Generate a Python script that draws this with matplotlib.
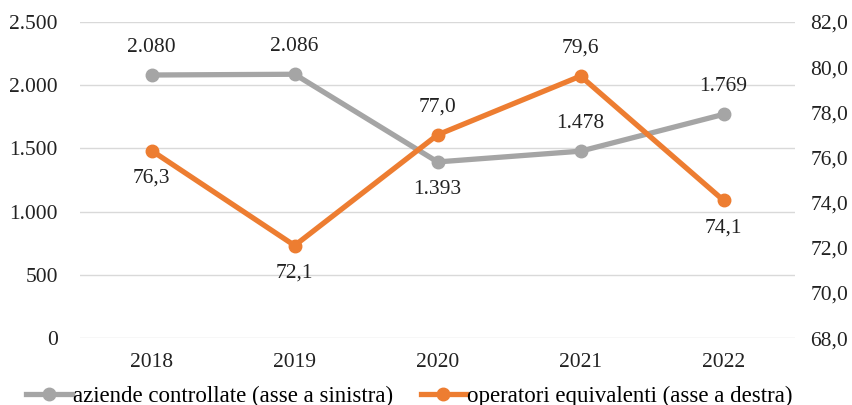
import matplotlib.pyplot as plt
from matplotlib.ticker import FuncFormatter

plt.rcParams['font.family'] = ['Liberation Serif', 'DejaVu Serif']

anni = ['2018', '2019', '2020', '2021', '2022']
aziende = [2080, 2086, 1393, 1478, 1769]
operatori = [76.3, 72.1, 77.0, 79.6, 74.1]

# posizione etichette: True = sopra
aziende_sopra = [True, True, False, True, True]
operatori_sopra = [False, False, True, True, False]

grigio = '#A5A5A5'
arancio = '#ED7D31'
fs = 15.5

fig = plt.figure(figsize=(8.53, 4.05), dpi=100)
ax = fig.add_axes([0.094, 0.165, 0.838, 0.781])
ax2 = ax.twinx()

x = list(range(len(anni)))
l1, = ax.plot(x, aziende, color=grigio, lw=3.8, marker='o', ms=9,
              label='aziende controllate (asse a sinistra)', zorder=3)
l2, = ax2.plot(x, operatori, color=arancio, lw=3.8, marker='o', ms=9,
               label='operatori equivalenti (asse a destra)', zorder=3)

ax.set_ylim(0, 2500)
ax.set_yticks(range(0, 2501, 500))
ax2.set_ylim(68, 82)
ax2.set_yticks(range(68, 83, 2))
ax.set_xlim(-0.5, len(anni) - 0.5)
ax.set_xticks(x)
ax.set_xticklabels(anni)

ax.yaxis.set_major_formatter(FuncFormatter(lambda v, p: f'{int(v):,}'.replace(',', '.')))
ax2.yaxis.set_major_formatter(FuncFormatter(lambda v, p: f'{v:.1f}'.replace('.', ',')))

ax.grid(axis='y', color='#D9D9D9', lw=1)
ax.set_axisbelow(True)
for a in (ax, ax2):
    for s in a.spines.values():
        s.set_visible(False)
    a.tick_params(length=0, labelsize=fs, colors='#222222')
ax.tick_params(axis='y', pad=16)
ax2.tick_params(axis='y', pad=11)
ax.tick_params(axis='x', pad=11)

for xi, v, up in zip(x, aziende, aziende_sopra):
    ax.annotate(f'{v:,}'.replace(',', '.'), (xi, v), xytext=(0, 13 if up else -13),
                textcoords='offset points', ha='center',
                va='bottom' if up else 'top', fontsize=fs, color='#222222')
for xi, v, up in zip(x, operatori, operatori_sopra):
    ax2.annotate(f'{v:.1f}'.replace('.', ','), (xi, v), xytext=(0, 13 if up else -13),
                 textcoords='offset points', ha='center',
                 va='bottom' if up else 'top', fontsize=fs, color='#222222')

fig.legend(handles=[l1, l2], loc='lower center', bbox_to_anchor=(0.48, -0.055),
           ncol=2, frameon=False, fontsize=16.5, handlelength=2.0,
           columnspacing=1.2, handletextpad=0.05)

fig.savefig('out.png', dpi=100)
